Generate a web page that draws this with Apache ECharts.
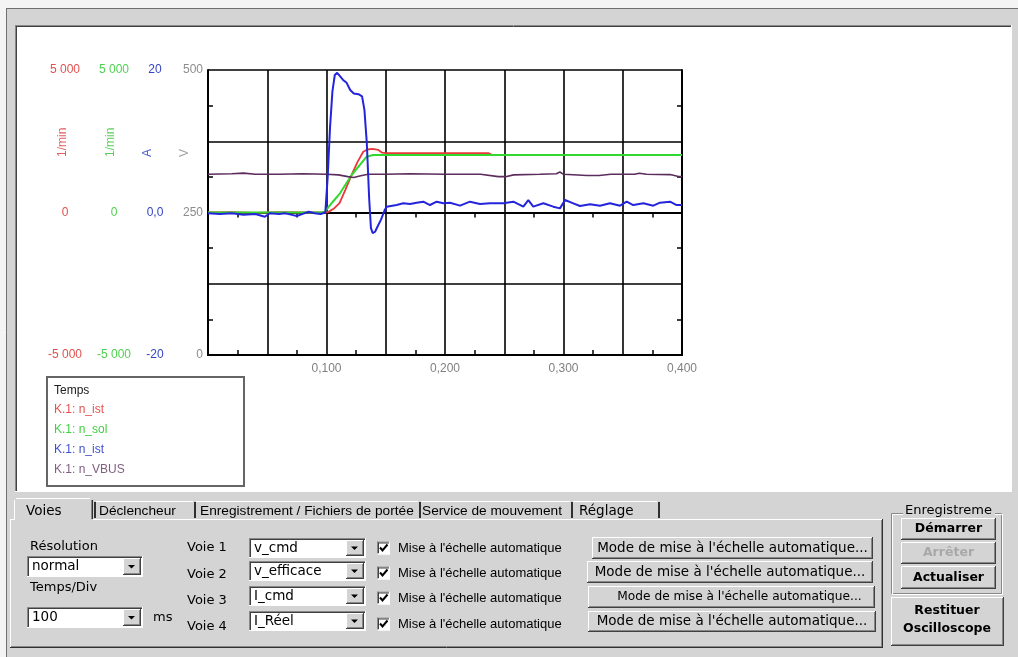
<!DOCTYPE html>
<html>
<head>
<meta charset="utf-8">
<script src="https://cdn.jsdelivr.net/npm/echarts@6/dist/echarts.min.js"></script>
<style>
  html, body { margin: 0; padding: 0; background: #d4d4d4; }
  #scope { width: 1018px; height: 657px; }
</style>
</head>
<body>
<div id="scope"></div>
<script>
// K.1: n_ist (red, 1/min)
const tSpeed = [0, 0.02, 0.04, 0.06, 0.08, 0.1, 0.102, 0.106, 0.111, 0.116, 0.1212, 0.126, 0.131, 0.1345, 0.139, 0.1435, 0.147, 0.15, 0.2, 0.237, 0.24, 0.3, 0.35, 0.4];
const nIst = [0, 15, -10, 10, 0, 0, 30, 130, 330, 800, 1320, 1760, 2130, 2210, 2230, 2200, 2100, 2080, 2080, 2080, 2018, 2018, 2018, 2018];

// K.1: n_sol (green, 1/min)
const tSetpoint = [0, 0.096, 0.0987, 0.105, 0.1114, 0.1212, 0.1339, 0.1392, 0.4];
const nSol = [0, 0, 30, 360, 673, 1316, 1958, 2018, 2018];

// K.1: n_ist (blue, A)
const tCurrent = [0, 0.01, 0.02, 0.03, 0.04, 0.048, 0.052, 0.06, 0.065, 0.07, 0.075, 0.08, 0.085, 0.09, 0.095, 0.099,
  0.101, 0.103, 0.105, 0.107, 0.109, 0.111, 0.114, 0.117, 0.12, 0.123, 0.127, 0.13, 0.132, 0.134, 0.136, 0.1375, 0.139, 0.141, 0.143, 0.146, 0.149, 0.1508,
  0.1592, 0.1648, 0.1705, 0.1761, 0.1817, 0.1873, 0.193, 0.1986, 0.2042,
  0.2127, 0.2211, 0.2295, 0.238, 0.2492, 0.2577, 0.2661, 0.2703, 0.2745, 0.283, 0.2914, 0.297, 0.3013, 0.3083, 0.3139,
  0.3224, 0.3308, 0.3392, 0.3477, 0.3533, 0.3589, 0.3674, 0.3758, 0.3814, 0.3899, 0.3955, 0.4];
const iCurrent = [-0.1, -0.2, -0.1, -0.3, -0.2, -0.6, -0.1, -0.2, -0.1, -0.3, -0.5, -0.2, 0.1, -0.1, -0.2, 0.0,
  5, 12, 17, 19.3, 19.6, 19.2, 18.6, 18.2, 17.2, 16.7, 16.6, 16.3, 14.4, 9.8, 2, -2.2, -2.9, -2.7, -2.0, -1.0, 0.3, 0.82,
  1.05, 1.29, 1.19, 1.38, 1.52, 1.05, 1.52, 1.29, 1.38,
  0.96, 1.52, 1.19, 1.29, 1.29, 1.52, 0.82, 1.75, 0.82, 1.29, 0.82, 0.58, 1.75, 1.29, 0.91,
  1.15, 0.96, 1.29, 0.96, 1.52, 1.05, 1.29, 0.96, 1.38, 1.52, 1.05, 1.05];

// K.1: n_VBUS (purple, V)
const tBus = [0, 0.02, 0.03, 0.04, 0.06, 0.08, 0.1, 0.11, 0.118, 0.123, 0.128, 0.135, 0.15, 0.17, 0.2, 0.23, 0.245, 0.252, 0.258, 0.28, 0.294, 0.297, 0.3, 0.32, 0.33, 0.34, 0.36, 0.364, 0.37, 0.39, 0.397, 0.4];
const vBus = [317, 318, 319, 317, 317, 318, 317, 316, 313, 311.5, 314, 317, 317, 318, 317, 317, 313, 313, 316, 317, 318, 321, 317, 315, 315, 317, 317, 319, 317, 316.5, 313, 313];

const channelNames = ['K.1: n_ist', 'K.1: n_sol', 'K.1: n_ist ', 'K.1: n_VBUS'];
const unitNames = ['1/min', '1/min', 'A', 'V'];
const tabNames = ['Voies', 'Déclencheur', 'Enregistrement / Fichiers de portée', 'Service de mouvement', 'Réglage'];
const voieNames = ['Voie 1', 'Voie 2', 'Voie 3', 'Voie 4'];
const voieSignals = ['v_cmd', 'v_efficace', 'I_cmd', 'I_Réel'];

const RED = '#e83838', GREEN = '#30d830', BLUE = '#2424dc', PURPLE = '#5c2c5c';
const FACE = '#d4d4d4';
const ARIAL = '"Liberation Sans", Arial, sans-serif';
const MSSANS = '"DejaVu Sans", sans-serif';

function pairs(ts, vs) {
  return ts.map((t, i) => [t, vs[i]]);
}

function thousands(v) {
  if (v === 0) return '0';
  const s = String(Math.abs(v)).replace(/\B(?=(\d{3})+(?!\d))/g, ' ');
  return (v < 0 ? '-' : '') + s;
}

// ---- window chrome (graphic elements) ----
const g = [];
function line(x1, y1, x2, y2, color, w) {
  g.push({ type: 'line', z: -5, silent: true, shape: { x1, y1, x2, y2 }, style: { stroke: color, lineWidth: w || 1 } });
}
function box(x, y, w, h, fill, stroke) {
  g.push({ type: 'rect', z: -5, silent: true, shape: { x, y, width: w, height: h }, style: { fill: fill, stroke: stroke || null } });
}
function label(x, y, text, extra) {
  g.push({
    type: 'text', z: -5, silent: true, x, y,
    style: Object.assign({ text, fill: '#000', font: '13px ' + MSSANS, align: 'left', verticalAlign: 'middle' }, extra || {})
  });
}
function raised(x, y, w, h) {
  box(x, y, w, h, FACE);
  line(x, y + 0.5, x + w - 1, y + 0.5, '#fff');
  line(x + 0.5, y, x + 0.5, y + h - 1, '#fff');
  line(x, y + h - 0.5, x + w, y + h - 0.5, '#404040');
  line(x + w - 0.5, y, x + w - 0.5, y + h, '#404040');
  line(x + 1, y + h - 1.5, x + w - 1, y + h - 1.5, '#888');
  line(x + w - 1.5, y + 1, x + w - 1.5, y + h - 1, '#888');
}
function sunken(x, y, w, h, fill) {
  box(x, y, w, h, fill);
  line(x, y + 0.5, x + w, y + 0.5, '#888');
  line(x + 0.5, y, x + 0.5, y + h, '#888');
  line(x + 1, y + 1.5, x + w - 1, y + 1.5, '#404040');
  line(x + 1.5, y + 1, x + 1.5, y + h - 1, '#404040');
  line(x, y + h - 0.5, x + w, y + h - 0.5, '#fff');
  line(x + w - 0.5, y, x + w - 0.5, y + h, '#fff');
}
function combo(x, y, w, h, text) {
  sunken(x, y, w, h, '#fff');
  raised(x + w - 20, y + 2, 18, h - 4);
  const cx = x + w - 11.5, cy = y + h / 2;
  g.push({ type: 'polygon', z: -5, silent: true, shape: { points: [[cx - 3.5, cy - 1.5], [cx + 3.5, cy - 1.5], [cx, cy + 2]] }, style: { fill: '#000' } });
  label(x + 5, y + h / 2, text, { font: '13.5px ' + MSSANS });
}
function checkbox(x, cy) {
  sunken(x, cy - 6.5, 13, 13, '#fff');
  g.push({ type: 'polyline', z: -5, silent: true, shape: { points: [[x + 3, cy - 0.5], [x + 5.5, cy + 2.5], [x + 10.5, cy - 3.5]] }, style: { stroke: '#000', lineWidth: 2, fill: null } });
}
function button(x, y, w, h, text, extra, dx) {
  raised(x, y, w, h);
  label(x + w / 2 + (dx || 0), y + h / 2, text, Object.assign({ align: 'center', font: '13.5px ' + MSSANS }, extra || {}));
}

// outer frame
box(0, 0, 1018, 8, '#f4f4f4');
box(0, 0, 6, 657, '#f4f4f4');
line(6, 8.5, 1018, 8.5, '#707070');
line(6.5, 8, 6.5, 657, '#707070');
// white scope panel
sunken(15, 25, 997, 467, '#fff');

// legend frame
box(47, 377, 197, 109, '#fff', '#666');
g[g.length - 1].style.lineWidth = 2;
label(54, 391, 'Temps', { font: '12px ' + ARIAL, fill: '#202020' });

// units (rotated)
const unitColors = ['#e06060', '#58d058', '#5060c8', '#a0a0a0'];
const unitX = [63, 111, 148, 185];
unitNames.forEach((u, i) => {
  g.push({
    type: 'text', z: -5, silent: true, x: unitX[i], y: 157, rotation: Math.PI / 2,
    style: { text: u, fill: unitColors[i], font: '12px ' + ARIAL, align: 'left', verticalAlign: 'middle' }
  });
});

// tabs
const tabEdges = [14, 94, 194, 419, 571, 658];
line(10, 519.5, 14, 519.5, '#fff');
line(93, 519.5, 883, 519.5, '#fff');
line(10.5, 519, 10.5, 648, '#fff');
line(881.5, 520, 881.5, 647, '#888');
line(882.5, 519, 882.5, 648, '#303030');
line(11, 646.5, 882, 646.5, '#888');
line(10, 647.5, 883, 647.5, '#303030');
// selected tab
line(16, 498.5, 90, 498.5, '#fff');
line(14.5, 500, 14.5, 520, '#fff');
line(91.5, 500, 91.5, 519, '#888');
line(92.5, 500, 92.5, 519, '#303030');
for (let i = 1; i < tabNames.length; i++) {
  line(tabEdges[i] + 2, 501.5, tabEdges[i + 1] - 1, 501.5, '#fff');
}
for (let i = 1; i < tabEdges.length; i++) {
  line(tabEdges[i] + 1, 502, tabEdges[i] + 1, 518, '#303030', 2);
}
const tabTextX = [26, 99, 200, 422, 579];
tabNames.forEach((t, i) => {
  const narrow = i >= 1 && i <= 3;
  label(tabTextX[i], 511, t, { font: narrow ? '13.7px ' + ARIAL : '13.5px ' + MSSANS });
});

// left controls
label(30, 547, 'Résolution');
combo(27, 556, 116, 21, 'normal');
label(30, 588, 'Temps/Div');
combo(27, 607, 116, 21, '100');
label(153, 618, 'ms');

// voies
const voieLabelY = [548, 575, 601, 627];
const comboY = [538, 561, 586, 611];
const checkY = [548, 573, 598, 624];
const modeBtn = [[592, 537, 281, 22], [587, 561, 286, 22], [588, 586, 287, 22], [588, 611, 288, 21]];
voieNames.forEach((v, i) => {
  label(187, voieLabelY[i], v);
  combo(249, comboY[i], 117, 20, voieSignals[i]);
  checkbox(377, checkY[i]);
  label(398, checkY[i], "Mise à l'échelle automatique", { font: '13px ' + ARIAL });
  const b = modeBtn[i];
  button(b[0], b[1], b[2], b[3], "Mode de mise à l'échelle automatique...",
    i === 2 ? { font: '12.2px ' + MSSANS } : null, i === 2 ? 8 : 0);
});

// enregistrement group
box(891.5, 513.5, 110, 80, null, '#888');
box(892.5, 514.5, 110, 80, null, '#fff');
box(903, 503, 92, 15, FACE);
label(905, 511, 'Enregistreme');
button(901, 518, 95, 22, 'Démarrer', { font: 'bold 12.5px ' + MSSANS });
button(901, 542, 95, 22, 'Arrêter', { font: 'bold 12.5px ' + MSSANS, fill: '#a8a8a8' });
button(901, 566, 95, 23, 'Actualiser', { font: 'bold 12.5px ' + MSSANS });
raised(891, 597, 113, 49);
label(947, 611, 'Restituer', { align: 'center', font: 'bold 12.5px ' + MSSANS });
label(947, 629, 'Oscilloscope', { align: 'center', font: 'bold 12.5px ' + MSSANS });

// ---- chart ----
const chart = echarts.init(document.getElementById('scope'), null, { renderer: 'canvas' });

const frameLine = { show: true, lineStyle: { color: '#000', width: 2 } };
const minor = { show: true, splitNumber: 2, length: 5, lineStyle: { color: '#000', width: 1.5 } };
const gridSplit = { show: true, lineStyle: { color: '#000', width: 1.6 } };

function sideAxis(min, max, interval, offset, color, fmt) {
  return {
    type: 'value', min, max, interval, position: 'left', offset,
    axisLine: { show: false }, axisTick: { show: false }, splitLine: { show: false },
    axisLabel: { margin: 0, align: 'center', color, fontFamily: ARIAL, fontSize: 12, formatter: fmt }
  };
}

const option = {
  backgroundColor: FACE,
  animation: false,
  graphic: { elements: g },
  grid: { left: 208, right: 336, top: 70, bottom: 302, containLabel: false, outerBoundsMode: 'none' },
  legend: {
    orient: 'vertical', left: 49, top: 400, padding: 0, itemGap: 0,
    itemWidth: 0, itemHeight: 0, icon: 'rect', selectedMode: false,
    textStyle: { fontFamily: ARIAL, fontSize: 12, lineHeight: 20 },
    data: [
      { name: channelNames[0], textStyle: { color: '#e85050' } },
      { name: channelNames[1], textStyle: { color: '#40d040' } },
      { name: channelNames[2], textStyle: { color: '#4050d0' } },
      { name: channelNames[3], textStyle: { color: '#806080' } }
    ]
  },
  xAxis: [
    {
      type: 'value', min: 0, max: 0.4, interval: 0.05, position: 'bottom',
      axisLine: frameLine, axisTick: { show: false, inside: true }, minorTick: minor, splitLine: gridSplit,
      axisLabel: {
        margin: 8, color: '#808080', fontFamily: ARIAL, fontSize: 12,
        formatter: v => {
          const k = Math.round(v * 10);
          return (k > 0 && Math.abs(v * 10 - k) < 1e-6) ? (k / 10).toFixed(3).replace('.', ',') : '';
        }
      }
    },
    {
      type: 'value', min: 0, max: 0.4, interval: 0.05, position: 'top',
      axisLine: frameLine, axisTick: { show: false, inside: true }, minorTick: minor,
      splitLine: { show: false }, axisLabel: { show: false }
    }
  ],
  yAxis: [
    {
      type: 'value', min: 0, max: 500, interval: 125, position: 'left',
      axisLine: frameLine, axisTick: { show: false, inside: true }, minorTick: minor, splitLine: gridSplit,
      axisLabel: { margin: 5, color: '#8c8c8c', fontFamily: ARIAL, fontSize: 12, formatter: v => (v % 250 === 0 ? String(v) : '') }
    },
    sideAxis(-20, 20, 20, 53, '#3444c4', v => (v === 0 ? '0,0' : String(v))),
    sideAxis(-5000, 5000, 5000, 94, '#50d050', thousands),
    sideAxis(-5000, 5000, 5000, 143, '#e05050', thousands),
    {
      type: 'value', min: 0, max: 500, interval: 125, position: 'right',
      axisLine: frameLine, axisTick: { show: false, inside: true }, minorTick: minor,
      splitLine: { show: false }, axisLabel: { show: false }
    }
  ],
  series: [
    {
      name: channelNames[0], type: 'line', yAxisIndex: 3, showSymbol: false, symbol: 'none',
      lineStyle: { color: RED, width: 1.8 }, itemStyle: { color: RED }, data: pairs(tSpeed, nIst)
    },
    {
      name: channelNames[1], type: 'line', yAxisIndex: 2, showSymbol: false, symbol: 'none',
      lineStyle: { color: GREEN, width: 2 }, itemStyle: { color: GREEN }, data: pairs(tSetpoint, nSol)
    },
    {
      name: channelNames[3], type: 'line', yAxisIndex: 0, showSymbol: false, symbol: 'none',
      lineStyle: { color: PURPLE, width: 1.6 }, itemStyle: { color: PURPLE }, data: pairs(tBus, vBus)
    },
    {
      name: channelNames[2], type: 'line', yAxisIndex: 1, showSymbol: false, symbol: 'none',
      lineStyle: { color: BLUE, width: 2 }, itemStyle: { color: BLUE }, data: pairs(tCurrent, iCurrent)
    }
  ]
};

chart.setOption(option);
</script>
</body>
</html>
